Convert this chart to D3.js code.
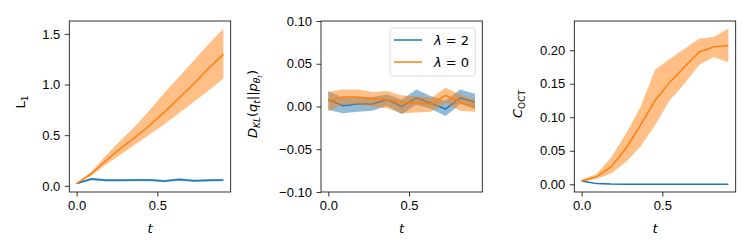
<!DOCTYPE html>
<html>
<head>
<meta charset="utf-8">
<script src="https://cdn.jsdelivr.net/npm/d3@7"></script>
<style>
  body { margin: 0; background: #fff; }
  svg { display: block; font-family: "DejaVu Sans", sans-serif; }
  .axis text { font-size: 13px; fill: #000; }
  .axis path, .axis line { stroke: #000; stroke-width: 0.8; }
</style>
</head>
<body>
<div id="chart"></div>
<script>
const tVals = [0, 0.091, 0.182, 0.273, 0.364, 0.455, 0.545, 0.636, 0.727, 0.818, 0.909];

// panel 1: L1
const l1Mean2 = [0.023, 0.067, 0.055, 0.055, 0.057, 0.057, 0.047, 0.062, 0.05, 0.055, 0.057];
const l1Lo2   = [0.016, 0.055, 0.044, 0.044, 0.046, 0.046, 0.036, 0.05, 0.039, 0.044, 0.046];
const l1Hi2   = [0.03, 0.079, 0.066, 0.066, 0.068, 0.068, 0.058, 0.074, 0.061, 0.066, 0.068];
const l1Mean0 = [0.023, 0.12, 0.25, 0.37, 0.48, 0.6, 0.73, 0.87, 1.01, 1.16, 1.3];
const l1Lo0   = [0.02, 0.1, 0.21, 0.31, 0.41, 0.51, 0.61, 0.72, 0.83, 0.94, 1.06];
const l1Hi0   = [0.025, 0.14, 0.3, 0.45, 0.59, 0.75, 0.92, 1.08, 1.24, 1.4, 1.55];

// panel 2: KL divergence
const klMean2 = [0.008, 0.001, 0.003, 0.003, 0.008, 0.0, 0.01, 0.004, -0.003, 0.01, 0.005];
const klLo2   = [-0.004, -0.008, -0.006, -0.005, 0.001, -0.009, 0.002, -0.003, -0.011, 0.003, -0.003];
const klHi2   = [0.018, 0.01, 0.011, 0.011, 0.014, 0.008, 0.02, 0.012, 0.007, 0.02, 0.015];
const klMean0 = [0.006, 0.011, 0.011, 0.009, 0.008, 0.005, 0.004, 0.003, 0.013, 0.005, -0.001];
const klLo0   = [-0.005, 0.002, 0.002, 0.0, -0.002, -0.008, -0.007, -0.006, 0.004, -0.005, -0.006];
const klHi0   = [0.017, 0.02, 0.02, 0.017, 0.018, 0.013, 0.012, 0.01, 0.022, 0.014, 0.008];

// panel 3: C_OCT
const cMean2 = [0.005, 0.001, 0.0003, 0.0002, 0.0002, 0.0002, 0.0002, 0.0002, 0.0002, 0.0002, 0.0002];
const cLo2   = [0.004, 0.0005, 0.0001, 0.0001, 0.0001, 0.0001, 0.0001, 0.0001, 0.0001, 0.0001, 0.0001];
const cHi2   = [0.006, 0.0015, 0.0005, 0.0004, 0.0004, 0.0004, 0.0004, 0.0004, 0.0004, 0.0004, 0.0004];
const cMean0 = [0.005, 0.011, 0.026, 0.053, 0.088, 0.125, 0.152, 0.175, 0.197, 0.205, 0.207];
const cLo0   = [0.004, 0.008, 0.016, 0.033, 0.056, 0.088, 0.125, 0.15, 0.178, 0.19, 0.182];
const cHi0   = [0.007, 0.015, 0.04, 0.075, 0.115, 0.171, 0.187, 0.202, 0.217, 0.22, 0.232];

const xTicks = [0, 0.5];
const legendLabels = ['λ = 2', 'λ = 0'];
const colors = ['#1f77b4', '#ff7f0e'];

const width = 750, height = 250;
const plotTop = 21, plotBottom = 192;

const svg = d3.select('#chart').append('svg')
  .attr('width', width)
  .attr('height', height);

function pad(ext) {
  const r = ext[1] - ext[0];
  return [ext[0] - r * 0.05, ext[1] + r * 0.05];
}

function drawPanel(p) {
  const g = svg.append('g');
  const xDom = pad(d3.extent(tVals));
  const x = d3.scaleLinear().domain(xDom).range([p.left, p.right]);
  const yDom = p.yDomain || pad(d3.extent([].concat(...p.series.map(s => s.lo.concat(s.hi)))));
  const y = d3.scaleLinear().domain(yDom).range([plotBottom, plotTop]);

  const clipId = 'clip' + Math.round(p.left);
  svg.append('clipPath').attr('id', clipId)
    .append('rect').attr('x', p.left).attr('y', plotTop)
    .attr('width', p.right - p.left).attr('height', plotBottom - plotTop);

  const plot = g.append('g').attr('clip-path', `url(#${clipId})`);
  p.series.forEach((s, i) => {
    const line = d3.line().x((d, j) => x(tVals[j])).y(d => y(d));
    const area = d3.area()
      .x((d, j) => x(tVals[j]))
      .y0((d, j) => y(s.lo[j]))
      .y1((d, j) => y(s.hi[j]));
    plot.append('path')
      .attr('d', line(s.mean))
      .attr('fill', 'none')
      .attr('stroke', colors[i])
      .attr('stroke-width', 1.5);
    plot.append('path')
      .attr('d', area(s.mean))
      .attr('fill', colors[i])
      .attr('fill-opacity', 0.5)
      .attr('stroke', 'none');
  });

  g.append('g').attr('class', 'axis')
    .attr('transform', `translate(0,${plotBottom})`)
    .call(d3.axisBottom(x).tickValues(xTicks).tickFormat(d3.format('.1f')).tickSizeInner(4.5).tickSizeOuter(0).tickPadding(4.5))
    .call(a => a.select('.domain').remove());
  g.append('g').attr('class', 'axis')
    .attr('transform', `translate(${p.left},0)`)
    .call(d3.axisLeft(y).tickValues(p.yTicks).tickFormat(d3.format(p.yFmt)).tickSizeInner(4.5).tickSizeOuter(0).tickPadding(4.5))
    .call(a => a.select('.domain').remove());

  g.append('rect')
    .attr('x', p.left).attr('y', plotTop)
    .attr('width', p.right - p.left).attr('height', plotBottom - plotTop)
    .attr('fill', 'none').attr('stroke', '#000').attr('stroke-width', 0.8);

  g.append('text')
    .attr('x', (p.left + p.right) / 2)
    .attr('y', 233)
    .attr('text-anchor', 'middle')
    .style('font-size', '13px')
    .style('font-style', 'italic')
    .text('t');

  const lab = g.append('text')
    .attr('transform', `translate(${p.labelX},${p.labelY}) rotate(-90)`)
    .attr('text-anchor', 'middle')
    .style('font-size', '13px');
  p.label.forEach(part => {
    lab.append('tspan')
      .attr('dy', part.dy || 0)
      .style('font-size', part.size || '13px')
      .style('font-style', part.italic ? 'italic' : 'normal')
      .text(part.t);
  });
  return { g, x, y };
}

drawPanel({
  left: 69.3, right: 230.7, labelX: 25, labelY: 102,
  yTicks: [0, 0.5, 1.0, 1.5], yFmt: '.1f',
  series: [
    { mean: l1Mean2, lo: l1Lo2, hi: l1Hi2 },
    { mean: l1Mean0, lo: l1Lo0, hi: l1Hi0 }
  ],
  label: [{ t: 'L' }, { t: '1', size: '9px', dy: 3 }]
});

drawPanel({
  left: 321, right: 482.3, labelX: 257, labelY: 104,
  yDomain: [-0.1, 0.1],
  yTicks: [-0.1, -0.05, 0, 0.05, 0.1], yFmt: '.2f',
  series: [
    { mean: klMean2, lo: klLo2, hi: klHi2 },
    { mean: klMean0, lo: klLo0, hi: klHi0 }
  ],
  label: [
    { t: 'D', italic: true },
    { t: 'KL', italic: true, size: '9px', dy: 3 },
    { t: '(', dy: -3 },
    { t: 'q', italic: true },
    { t: 't', italic: true, size: '9px', dy: 3 },
    { t: '||', dy: -3 },
    { t: 'p', italic: true },
    { t: 'θ', italic: true, size: '9px', dy: 3 },
    { t: 't', italic: true, size: '6.5px', dy: 2 },
    { t: ')', dy: -5 }
  ]
});

drawPanel({
  left: 574.3, right: 735.7, labelX: 522, labelY: 104,
  yTicks: [0, 0.05, 0.1, 0.15, 0.2], yFmt: '.2f',
  series: [
    { mean: cMean2, lo: cLo2, hi: cHi2 },
    { mean: cMean0, lo: cLo0, hi: cHi0 }
  ],
  label: [{ t: 'C', italic: true }, { t: 'OCT', size: '9px', dy: 3 }]
});

// legend in the middle panel
const leg = svg.append('g');
leg.append('rect')
  .attr('x', 390).attr('y', 28)
  .attr('width', 85.3).attr('height', 48)
  .attr('rx', 2.5)
  .attr('fill', '#fff').attr('fill-opacity', 0.8)
  .attr('stroke', '#d6d6d6').attr('stroke-width', 0.8);
legendLabels.forEach((lbl, i) => {
  const yy = 40 + i * 22;
  leg.append('line')
    .attr('x1', 394).attr('x2', 422)
    .attr('y1', yy).attr('y2', yy)
    .attr('stroke', colors[i]).attr('stroke-width', 1.5);
  const tx = leg.append('text')
    .attr('x', 434).attr('y', yy + 4.5)
    .style('font-size', '13px');
  tx.append('tspan').style('font-style', 'italic').text('λ');
  tx.append('tspan').text(lbl.slice(1));
});
</script>
</body>
</html>
